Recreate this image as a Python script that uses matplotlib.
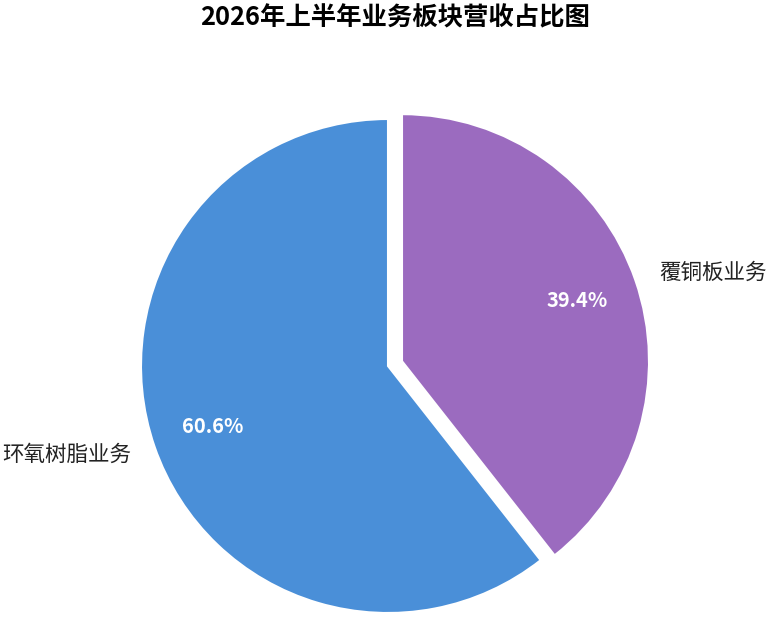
import matplotlib
matplotlib.use("Agg")
import matplotlib.pyplot as plt

plt.rcParams['font.family'] = ['Noto Sans CJK SC', 'DejaVu Sans']

title = "2026年上半年业务板块营收占比图"
categories = ["覆铜板业务", "环氧树脂业务"]
values = [39.4, 60.6]
colors = ["#9B6BBF", "#4A8FD8"]
explode = [0.06, 0.0]

W, H = 770, 621
fig = plt.figure(figsize=(W / 100, H / 100), dpi=100)
ax = fig.add_axes([0, 0, 1, 1])
cx, cy, r = 388, 366, 247

wedges, texts, autotexts = ax.pie(
    values, labels=categories, colors=colors, explode=explode,
    startangle=90, counterclock=False, autopct='%1.1f%%',
    pctdistance=0.75, labeldistance=1.1, radius=1.0, center=(0, 0),
    wedgeprops=dict(edgecolor='white', linewidth=1.5),
    textprops=dict(fontsize=15.5, color='#222222'), frame=False)
ax.set_xlim(-cx / r, (W - cx) / r)
ax.set_ylim(-(H - cy) / r, cy / r)
ax.set_aspect('equal')
ax.axis('off')

for t in autotexts:
    t.set_color('white')
    t.set_fontsize(14.5)
    t.set_fontweight('bold')

fig.text(395 / W, 1 - 18 / H, title, ha='center', va='center',
         fontsize=18.3, fontweight='bold', color='black')

fig.savefig('out.png', dpi=100)
